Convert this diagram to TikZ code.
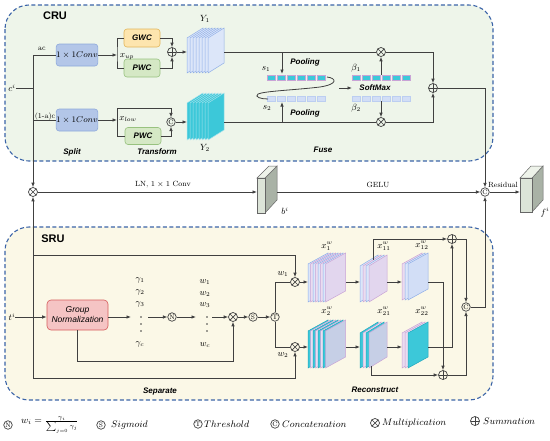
\RequirePackage{fix-cm}
\documentclass[tikz,border=0pt]{standalone}
\usepackage{fontspec}
\newfontfamily\arialf{Liberation Sans}
\usetikzlibrary{arrows.meta}
\definecolor{linec}{HTML}{404040}
\definecolor{dashc}{HTML}{3B64A8}
\definecolor{cruF}{HTML}{EEF5EA}
\definecolor{sruF}{HTML}{FBF8E7}
\definecolor{convF}{HTML}{B3C6E8}
\definecolor{convD}{HTML}{8EA9DB}
\definecolor{gwcF}{HTML}{FDE5AE}
\definecolor{gwcD}{HTML}{E2B65A}
\definecolor{pwcF}{HTML}{D5E8C5}
\definecolor{pwcD}{HTML}{98C27F}
\definecolor{gnF}{HTML}{F5C4C4}
\definecolor{gnD}{HTML}{D65C5C}
\definecolor{cyanF}{HTML}{3CC8D9}
\definecolor{cyanD}{HTML}{23A8BD}
\definecolor{cyanE}{HTML}{A6E2EC}
\definecolor{lbF}{HTML}{DCE6F9}
\definecolor{lbF2}{HTML}{D2DEF6}
\definecolor{lbD}{HTML}{8FAEE8}
\definecolor{pkF}{HTML}{EADCF0}
\definecolor{pkD}{HTML}{C9A3D6}
\definecolor{lavF}{HTML}{E2D6EE}
\definecolor{grF}{HTML}{C6CFE6}
\definecolor{boxG}{HTML}{DCE4D8}
\definecolor{boxT}{HTML}{EEF3EA}
\definecolor{boxS}{HTML}{A9B2A6}
\newcommand\sheet[7]{\filldraw[fill=#6,draw=#7,line width=0.5pt] (#1,#2) -- ++(0,-#4) -- ++(#3,-#5) -- ++(0,#4) -- cycle;}
\tikzset{
 ln/.style={draw=linec,line width=0.8pt},
 arr/.style={ln,-{Latex[length=4.5pt,width=3.6pt]}},
 panel/.style={draw=dashc,line width=1.1pt,dash pattern=on 4pt off 2.5pt,rounded corners=24pt},
 box/.style={draw,rounded corners=3pt,line width=0.6pt,inner sep=0pt},
 opc/.style={circle,draw=linec,line width=0.7pt,minimum size=9pt,inner sep=0pt},
 opx/.style={opc,path picture={\draw[linec,line width=0.7pt] (path picture bounding box.north west)--(path picture bounding box.south east) (path picture bounding box.north east)--(path picture bounding box.south west);}},
 opp/.style={opc,path picture={\draw[linec,line width=0.7pt] (path picture bounding box.north)--(path picture bounding box.south) (path picture bounding box.east)--(path picture bounding box.west);}},
 opl/.style={opc,minimum size=8.5pt,font=\fontsize{6.5}{6.5}\selectfont},
 stage/.style={font=\arialf\bfseries\itshape\fontsize{8}{9}\selectfont,inner sep=0pt},
 ttl/.style={font=\arialf\bfseries\fontsize{11}{12}\selectfont,inner sep=0pt},
 ml/.style={font=\fontsize{9}{10}\selectfont,inner sep=0pt},
 cl/.style={font=\fontsize{8.5}{10}\selectfont,inner sep=0pt},
 sl/.style={font=\fontsize{7.5}{9}\selectfont,inner sep=0pt},
 lg/.style={font=\fontsize{9.5}{11}\selectfont,anchor=west,inner sep=0pt},
 bfs/.style={font=\arialf\bfseries\itshape\fontsize{8}{9}\selectfont},
}
\begin{document}
\begin{tikzpicture}[x=1pt,y=-1pt]
\useasboundingbox (0,0) rectangle (550,440);
% panels
\path[panel,fill=cruF] (5,5) rectangle (493,161);
\path[panel,fill=sruF] (5,227) rectangle (493,400);
\node[ttl] (cru) at (55,16) {CRU};
\node[ttl] (sru) at (53,239) {SRU};

% ---------------- CRU ----------------
\node[ml] (ci) at (12,88) {$c^i$};
\coordinate (ja) at (33,55);
\coordinate (jb) at (33,120);
\coordinate (jc) at (33,88);
\node[box,fill=convF,draw=convD,minimum width=40pt,minimum height=22pt,cl] (conv1) at (77,55) {$1\times 1Conv$};
\node[box,fill=convF,draw=convD,minimum width=40pt,minimum height=22pt,cl] (conv2) at (77,120) {$1\times 1Conv$};
\node[sl] (lac) at (42,49) {ac};
\node[sl,fill=cruF,inner sep=0.5pt] (lbc) at (45,117) {(1-a)c};
\draw[ln] (ci.east) -- (jc);
\draw[ln] (ja) -- (conv1.west);
\draw[ln] (jb) -- (conv2.west);

\coordinate (sp1) at (117,55);
\coordinate (sp2) at (117,120);
\node[box,fill=gwcF,draw=gwcD,minimum width=36pt,minimum height=18pt,bfs] (gwc) at (142,38) {GWC};
\node[box,fill=pwcF,draw=pwcD,minimum width=36pt,minimum height=18pt,bfs] (pwc1) at (142,68) {PWC};
\node[box,fill=pwcF,draw=pwcD,minimum width=36pt,minimum height=17pt,bfs] (pwc2) at (143,136) {PWC};
\node[opp] (add1) at (172,52) {};
\node[opl] (cat1) at (171,122) {C};
\draw[arr] (conv1.east) -- (sp1);
\draw[ln] (gwc.west) -| (sp1) |- (pwc1.west);
\node[ml] (xup) at (127,57) {$x_{up}$};
\draw[arr] (gwc.east) -| (add1.north);
\draw[arr] (pwc1.east) -| (add1.south);
\draw[arr] (conv2.east) -- (sp2);
\node[ml] (xlow) at (128,119) {$x_{low}$};
\draw[arr] (sp2) -- ++(0,-12) -| (cat1.north);
\draw[ln] (sp2) |- (pwc2.west);
\draw[arr] (pwc2.east) -| (cat1.south);

% Y stacks
\foreach \k in {0,...,7} {\sheet{187+3*\k}{73}{16}{35}{10}{lbF}{lbD}}
\foreach \k in {0,...,7} {\sheet{187+3*\k}{140}{16}{37}{10}{cyanF}{cyanE}}
\node[ml] (y1l) at (205,19) {$Y_1$};
\node[ml] (y2l) at (205,148) {$Y_2$};
\coordinate (y1w) at (187,52);
\coordinate (y1e) at (224,52);
\coordinate (y2w) at (187,122);
\coordinate (y2e) at (224,122);
\draw[arr] (add1.east) -- (y1w);
\draw[arr] (cat1.east) -- (y2w);

\node[opx] (mul1) at (381,52) {};
\node[opx] (mul2) at (381,122) {};
\draw[ln] (y1e) -- (mul1.west);
\draw[ln] (y2e) -- (mul2.west);

% pooling bars
\foreach \k in {0,...,5} {
 \filldraw[fill=cyanF,draw=pkD,line width=0.4pt] (267+10*\k,75) rectangle ++(8.5,5);
 \filldraw[fill=lbF2,draw=lbD!60,line width=0.4pt] (267+10*\k,96) rectangle ++(8.5,5);
 \filldraw[fill=cyanF,draw=pkD,line width=0.4pt] (352+10*\k,75) rectangle ++(8.5,5);
 \filldraw[fill=lbF2,draw=lbD!60,line width=0.4pt] (352+10*\k,96) rectangle ++(8.5,5);
}
\coordinate (p1t) at (282,52);
\coordinate (p1b) at (282,74);
\coordinate (p2b) at (282,122);
\coordinate (p2t) at (282,102);
\draw[arr] (p1t) -- (p1b);
\draw[arr] (p2b) -- (p2t);
\node[bfs] (pool1) at (305,62) {Pooling};
\node[bfs] (pool2) at (305,113) {Pooling};
\node[ml] (s1) at (266,69) {$s_1$};
\node[ml] (s2) at (267,108) {$s_2$};
\node[ml] (b1) at (356,68) {$\beta_1$};
\node[ml] (b2) at (356,108) {$\beta_2$};
\node[bfs] (smax) at (375,88) {SoftMax};
\draw[ln] (327,77) .. controls (336,78) and (339,84) .. (320,87) .. controls (295,90) and (265,91) .. (258,94) .. controls (254,97) and (261,99) .. (268,99);
\coordinate (sa) at (339,88);
\coordinate (sb) at (352,88);
\draw[arr] (sa) -- (sb);
\coordinate (bt) at (381,75);
\coordinate (bb) at (381,101);
\draw[arr] (bt) -- (mul1.south);
\draw[arr] (bb) -- (mul2.north);
\node[opp] (add2) at (433,88) {};
\draw[arr] (mul1.east) -| (add2.north);
\draw[arr] (mul2.east) -| (add2.south);

\node[stage] (lsplit) at (72,152) {Split};
\node[stage] (ltrans) at (157,152) {Transform};
\node[stage] (lfuse) at (323,150) {Fuse};

% ---------------- middle ----------------
\node[opx] (mulm) at (33,192) {};
\node[opl] (catm) at (485,192) {C};
\draw[arr] (ja) -- (mulm.north);
\draw[arr] (add2.east) -| (catm.north);
% b slab
\filldraw[fill=boxS,draw=linec!80,line width=0.5pt] (265,178) -- (277,166) -- (277,200) -- (265,213) -- cycle;
\filldraw[fill=boxT,draw=linec!80,line width=0.5pt] (257,178) -- (269,166) -- (277,166) -- (265,178) -- cycle;
\filldraw[fill=boxG,draw=linec!80,line width=0.5pt] (257,178) rectangle (265,213);
\coordinate (bin) at (257,192);
\coordinate (bout) at (277,192);
\node[ml] (bl) at (285,211) {$b^i$};
\draw[arr] (mulm.east) -- (bin);
\node[sl] (lln) at (163,185) {LN, $1\times 1$ Conv};
\draw[arr] (bout) -- (catm.west);
\node[sl] (lgelu) at (378,185) {GELU};
% f box
\filldraw[fill=boxS,draw=linec!80,line width=0.5pt] (532,178) -- (543,166) -- (543,200) -- (532,212) -- cycle;
\filldraw[fill=boxT,draw=linec!80,line width=0.5pt] (520,178) -- (531,166) -- (543,166) -- (532,178) -- cycle;
\filldraw[fill=boxG,draw=linec!80,line width=0.5pt] (520,178) rectangle (532,212);
\coordinate (fin) at (520,192);
\node[ml] (fl) at (545,212) {$f^i$};
\draw[arr] (catm.east) -- (fin);
\node[sl] (lres) at (503,185) {Residual};

% ---------------- SRU ----------------
\node[ml] (ti) at (12,317) {$t^i$};
\node[box,fill=gnF,draw=gnD,minimum width=61pt,minimum height=30pt,align=center,font=\arialf\itshape\fontsize{8.5}{10}\selectfont,rounded corners=4pt] (gn) at (77.5,315) {Group\\Normalization};
\draw[arr] (ti.east) -- (gn.west |- ti.east);
\coordinate (ge) at (131,317);
\draw[arr] (gn.east |- ge) -- (ge);
\node[ml] (g1) at (140,280) {$\gamma_1$};
\node[ml] (g2) at (140,292) {$\gamma_2$};
\node[ml] (g3) at (140,304) {$\gamma_3$};
\node[ml] (gc) at (140,344) {$\gamma_c$};
\foreach \yy in {317,324,331} {\fill[linec] (141,\yy) circle (0.9);}
\node[opl] (nrm) at (172,317) {N};
\coordinate (gs) at (148,317);
\draw[arr] (gs) -- (nrm.west);
\coordinate (we) at (196,317);
\draw[arr] (nrm.east) -- (we);
\node[ml] (w1) at (205,282) {$w_1$};
\node[ml] (w2) at (205,294) {$w_2$};
\node[ml] (w3) at (205,305) {$w_3$};
\node[ml] (wc) at (205,345) {$w_c$};
\foreach \yy in {317,324,331} {\fill[linec] (207,\yy) circle (0.9);}
\node[opx] (mulg) at (233,317) {};
\node[opl] (sig) at (253,317) {S};
\node[opl] (thr) at (275,317) {T};
\coordinate (ws) at (212,317);
\draw[arr] (ws) -- (mulg.west);
\draw[arr] (mulg.east) -- (sig.west);
\draw[arr] (sig.east) -- (thr.west);
\draw[arr] (gn.south) -- ++(0,31) -| (mulg.south);
\node[opx] (mw1) at (295,282) {};
\node[opx] (mw2) at (295,347) {};
\draw[ln] (thr.north) |- (mw1.west);
\draw[ln] (thr.south) |- (mw2.west);
\node[ml] (lw1) at (283,274) {$w_1$};
\node[ml] (lw2) at (283,355) {$w_2$};
\coordinate (tt) at (33,255);
\coordinate (tb) at (33,378);
\draw[arr] (tb) -- (mulm.south);
\draw[arr] (tt) -| (mw1.north);
\draw[arr] (tb) -| (mw2.south);

% stacks
\foreach \k/\f/\d in {0/lbF/lbD,1/pkF/pkD,2/lbF/lbD,3/pkF/pkD,4/lbF/lbD,5/pkF/pkD,6/lbF/lbD,7/lavF/pkD} {\sheet{308+2.5*\k}{302}{20}{38}{11}{\f}{\d}}
\foreach \k/\f/\d in {0/lbF/lbD,1/pkF/pkD,2/lbF/lbD,3/lavF/pkD} {\sheet{360+3*\k}{302}{18}{36}{11}{\f}{\d}}
\foreach \k/\f/\d in {0/pkF/pkD,1/lbF/lbD,2/lbF2/lbD} {\sheet{402+3*\k}{300}{20}{36}{11}{\f}{\d}}
\foreach \k/\f/\d in {0/cyanF/cyanD,1/pkF/pkD,2/cyanF/cyanD,3/pkF/pkD,4/cyanF/cyanD,5/pkF/pkD,6/cyanF/cyanD,7/grF/pkD} {\sheet{308+2.5*\k}{368}{20}{37}{11}{\f}{\d}}
\foreach \k/\f/\d in {0/cyanF/cyanD,1/pkF/pkD,2/cyanF/cyanD,3/grF/pkD} {\sheet{360+3*\k}{368}{18}{35}{11}{\f}{\d}}
\foreach \k/\f/\d in {0/pkF/pkD,1/pkF/pkD,2/cyanF/cyanD} {\sheet{402+3*\k}{368}{20}{35}{11}{\f}{\d}}
\node[ml] (lx1) at (327,246) {$x_1^w$};
\node[ml] (lx11) at (384,246) {$x_{11}^w$};
\node[ml] (lx12) at (422,245) {$x_{12}^w$};
\node[ml] (lx2) at (327,311) {$x_2^w$};
\node[ml] (lx21) at (384,311) {$x_{21}^w$};
\node[ml] (lx22) at (422,311) {$x_{22}^w$};
\coordinate (x1w) at (308,282);
\coordinate (x1e) at (346,282);
\coordinate (x11w) at (360,282);
\coordinate (x11e) at (387,282);
\coordinate (x12w) at (402,282);
\coordinate (x12e) at (428,282);
\coordinate (x11t) at (373,260);
\coordinate (x2w) at (308,347);
\coordinate (x2e) at (346,347);
\coordinate (x21w) at (360,347);
\coordinate (x21e) at (387,347);
\coordinate (x22w) at (402,347);
\coordinate (x22e) at (428,347);
\coordinate (x21b) at (371,366);
\draw[arr] (mw1.east) -- (x1w);
\draw[arr] (x1e) -- (x11w);
\draw[arr] (x11e) -- (x12w);
\draw[arr] (mw2.east) -- (x2w);
\draw[arr] (x2e) -- (x21w);
\draw[arr] (x21e) -- (x22w);
\node[opp] (addu) at (452,239) {};
\node[opp] (addl) at (443,375) {};
\node[opl] (cats) at (466,307) {C};
\draw[arr] (x11t) |- (addu.west);
\draw[arr] (x12e) -| (addl.north);
\draw[arr] (x22e) -| (addu.south);
\draw[arr] (x21b) |- (addl.west);
\draw[arr] (addu.east) -| (cats.north);
\draw[arr] (addl.east) -| (cats.south);
\draw[arr] (cats.east) -| (catm.south);

\node[stage] (lsep) at (160,392) {Separate};
\node[stage] (lrec) at (375,390) {Reconstruct};

% ---------------- legend ----------------
\node[opl] (kn) at (8,425) {N};
\node[lg] (tn) at (21,425) {$w_i=\frac{\gamma_i}{\sum_{j=0}\gamma_j}$};
\node[opl] (ks) at (101,425) {S};
\node[lg] (ts) at (111,425) {$Sigmoid$};
\node[opl] (kt) at (198,424) {T};
\node[lg] (tt2) at (204,424) {$Threshold$};
\node[opl] (kc) at (275,424) {C};
\node[lg] (tc) at (282,424) {$Concatenation$};
\node[opx] (km) at (375,423) {};
\node[lg] (tm) at (382,423) {$Multiplication$};
\node[opp] (ka) at (475,421) {};
\node[lg] (ta) at (483,421) {$Summation$};
\end{tikzpicture}
\end{document}
